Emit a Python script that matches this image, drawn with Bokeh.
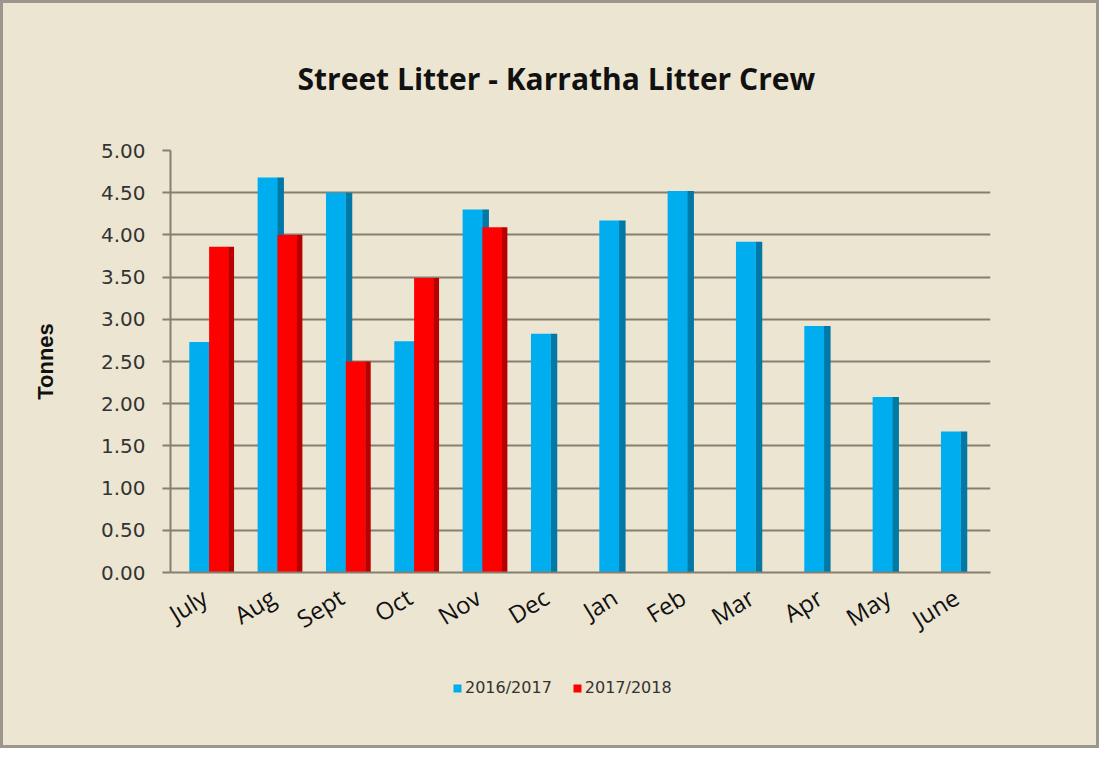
from bokeh.plotting import figure
from bokeh.layouts import column
from bokeh.models import (ColumnDataSource, Legend, LegendItem, NumeralTickFormatter,
                          FixedTicker, Range1d, Title)
from bokeh.transform import dodge
from bokeh.embed import file_html
from bokeh.resources import INLINE

months = ["July", "Aug", "Sept", "Oct", "Nov", "Dec", "Jan", "Feb", "Mar", "Apr", "May", "June"]
y2016_2017 = [2.73, 4.68, 4.50, 2.74, 4.30, 2.83, 4.17, 4.52, 3.92, 2.92, 2.08, 1.67]
y2017_2018 = [3.86, 4.00, 2.50, 3.49, 4.09]
series_names = ["2016/2017", "2017/2018"]
y_ticks = [0.0, 0.5, 1.0, 1.5, 2.0, 2.5, 3.0, 3.5, 4.0, 4.5, 5.0]

BG = "#ECE5D1"
GRID = "#857F72"
BLUE, BLUE_SIDE = "#00AEEF", "#0079A6"
RED, RED_SIDE = "#FF0000", "#B80000"

src_a = ColumnDataSource(dict(m=months, v=y2016_2017))
src_b = ColumnDataSource(dict(m=months[:len(y2017_2018)], v=y2017_2018))

p = figure(x_range=months, y_range=Range1d(0, 5),
           frame_width=820, frame_height=422,
           output_backend="svg", toolbar_location=None,
           min_border_left=167, min_border_right=106, min_border_top=147, min_border_bottom=83,
           background_fill_color=BG, border_fill_color=BG)

title = Title(text="Street Litter - Karratha Litter Crew", align="left", offset=127,
              text_font="Open Sans", text_font_style="bold", text_font_size="30px",
              text_color="#111111", standoff=104)
p.add_layout(title, "above")

# bars: blue front + side, then red front + side (red covers blue's side)
p.vbar(x=dodge("m", 0.11, range=p.x_range), top="v", width=0.10, source=src_a,
       fill_color=BLUE_SIDE, line_color=None)
p.vbar(x=dodge("m", -0.08, range=p.x_range), top="v", width=0.29, source=src_a,
       fill_color=BLUE, line_color=None)
p.vbar(x=dodge("m", 0.21, range=p.x_range), top="v", width=0.29, source=src_b,
       fill_color=RED, line_color=None)
p.vbar(x=dodge("m", 0.39, range=p.x_range), top="v", width=0.08, source=src_b,
       fill_color=RED_SIDE, line_color=None)

p.xgrid.grid_line_color = None
p.ygrid.grid_line_color = GRID
p.ygrid.grid_line_width = 2
p.ygrid.level = "underlay"
p.outline_line_color = None

p.yaxis.ticker = FixedTicker(ticks=y_ticks)
p.yaxis.formatter = NumeralTickFormatter(format="0.00")
p.yaxis.axis_label = "Tonnes"
p.yaxis.axis_label_text_font = "Liberation Sans"
p.yaxis.axis_label_text_font_style = "bold"
p.yaxis.axis_label_text_font_size = "22px"
p.yaxis.axis_label_text_color = "#111111"
p.yaxis.axis_label_standoff = 40
p.yaxis.major_label_text_font = "DejaVu Sans"
p.yaxis.major_label_text_font_size = "20px"
p.yaxis.major_label_text_color = "#333333"
p.yaxis.major_label_standoff = 17
p.yaxis.axis_line_color = GRID
p.yaxis.axis_line_width = 2
p.yaxis.major_tick_line_color = GRID
p.yaxis.major_tick_line_width = 2
p.yaxis.major_tick_out = 8
p.yaxis.major_tick_in = 0
p.yaxis.minor_tick_line_color = None

p.xaxis.major_label_orientation = 0.55
p.xaxis.major_label_text_font = "Open Sans"
p.xaxis.major_label_text_font_size = "24px"
p.xaxis.major_label_text_color = "#111111"
p.xaxis.major_label_standoff = 16
p.xaxis.axis_line_color = GRID
p.xaxis.axis_line_width = 2
p.xaxis.major_tick_line_color = None

# legend strip below the chart (zero-size swatch renderers carry the legend glyphs)
lg = figure(width=1093, height=90, x_range=(0, 1), y_range=(0, 1),
            output_backend="svg", toolbar_location=None, min_border=0,
            background_fill_color=BG, border_fill_color=BG)
lg.axis.visible = False
lg.grid.grid_line_color = None
lg.outline_line_color = None
sw_a = lg.vbar(x=0.5, top=0, bottom=0, width=0, source=src_a, fill_color=BLUE, line_color=None)
sw_b = lg.vbar(x=0.5, top=0, bottom=0, width=0, source=src_b, fill_color=RED, line_color=None)
legend = Legend(items=[LegendItem(label=series_names[0], renderers=[sw_a]),
                       LegendItem(label=series_names[1], renderers=[sw_b])],
                orientation="horizontal", location=(282, 48),
                background_fill_alpha=0, border_line_color=None,
                label_text_font="DejaVu Sans", label_text_font_size="16px",
                label_text_color="#333333", glyph_width=10, glyph_height=10,
                label_standoff=3, spacing=20, padding=0, margin=0)
lg.add_layout(legend, "center")

layout = column(p, lg, spacing=0,
                styles={"border": "3px solid #9C978D", "background-color": BG})

open("out.html", "w").write(file_html(layout, INLINE))
